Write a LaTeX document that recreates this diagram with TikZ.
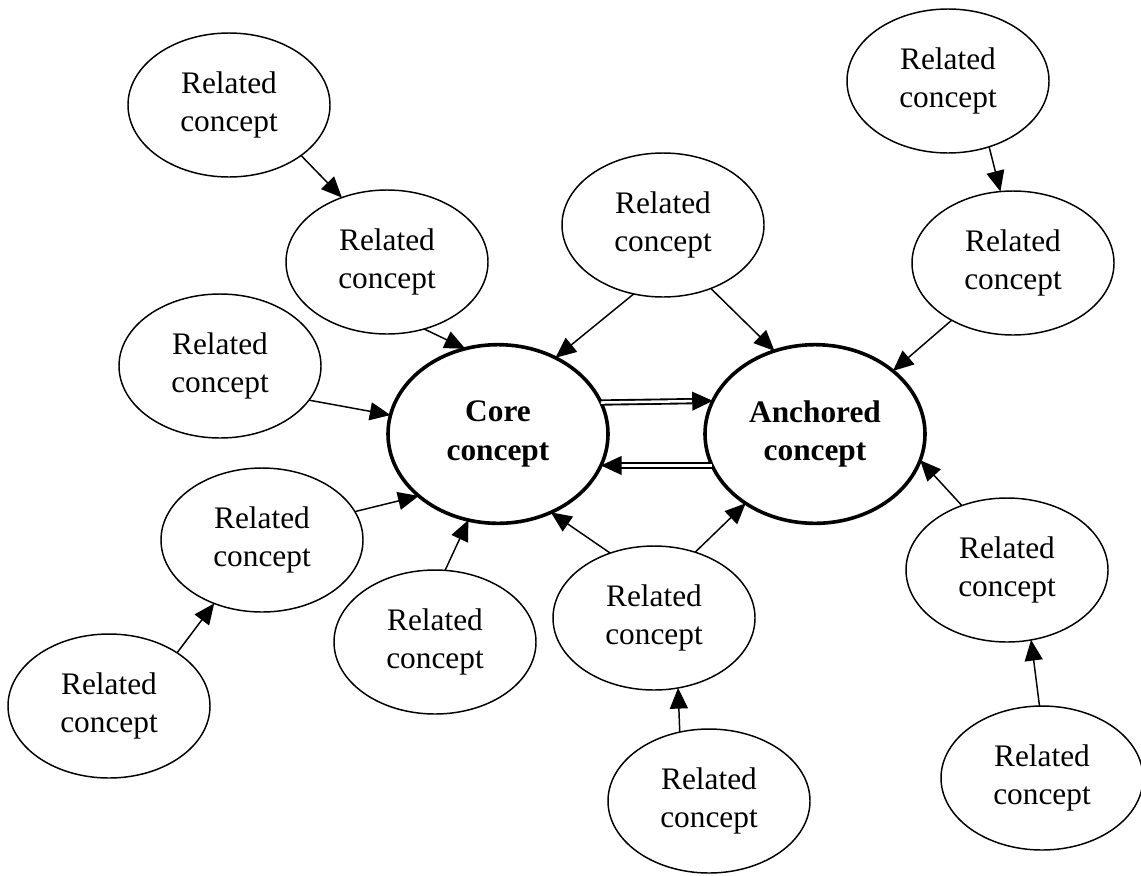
\documentclass[tikz,border=0pt]{standalone}
\usepackage{fontspec}
\setmainfont{Liberation Serif}
\usetikzlibrary{arrows.meta,shapes.geometric}
\tikzset{
  rel/.style={ellipse, draw, line width=1.1pt, inner sep=0pt, outer sep=0pt,
    minimum width=151.5pt, minimum height=108pt, align=center,
    font=\fontsize{23.5}{28.5}\selectfont},
  core/.style={ellipse, draw, line width=2.7pt, inner sep=0pt, outer sep=0pt,
    minimum width=165pt, minimum height=134pt, align=center,
    font=\fontsize{23.5}{29}\selectfont\bfseries},
  link/.style={line width=1.1pt, -{Triangle[length=15.5pt,width=13.5pt]}},
  dlink/.style={double, line width=1.4pt, double distance=1.9pt,
    -{Triangle[length=15.5pt,width=14pt]}}
}
\begin{document}
\begin{tikzpicture}[x=0.75pt,y=-0.75pt]
\useasboundingbox (0,0) rectangle (1141,875);
\node[core] (core) at (498,434) {Core\\concept};
\node[core] (anch) at (815,434) {Anchored\\concept};
\node[rel] (A) at (229,105) {Related\\concept};
\node[rel] (B) at (387,262) {Related\\concept};
\node[rel] (C) at (220,366) {Related\\concept};
\node[rel] (D) at (663,225) {Related\\concept};
\node[rel] (E) at (948,81) {Related\\concept};
\node[rel] (F) at (1013,263) {Related\\concept};
\node[rel] (G) at (262,540) {Related\\concept};
\node[rel] (H) at (109,706) {Related\\concept};
\node[rel] (I) at (435,642) {Related\\concept};
\node[rel] (J) at (654,618) {Related\\concept};
\node[rel] (K) at (709,801) {Related\\concept};
\node[rel] (L) at (1007,570) {Related\\concept};
\node[rel] (M) at (1042,778) {Related\\concept};
\draw[link] (A.-35) -- (B.125);
\draw[link] (B.-61) -- (core.111);
\draw[link] (C.-21) -- (core.170);
\draw[link] (D.-113) -- (core.53);
\draw[link] (D.-53) -- (anch.116);
\draw[link] (E.-58) -- (F.100);
\draw[link] (F.223) -- (anch.39);
\draw[link] (G.17) -- (core.218);
\draw[link] (H.38) -- (G.233);
\draw[link] (I.82) -- (core.251);
\draw[link] (J.124) -- (core.-56);
\draw[link] (J.58) -- (anch.225);
\draw[link] (K.113) -- (J.-71);
\draw[link] (L.125) -- (anch.-14);
\draw[link] (M.92) -- (L.-71);
\draw[dlink] (core.17.3) -- (anch.162.7);
\draw[dlink] (anch.197.3) -- (core.-17.3);
\end{tikzpicture}
\end{document}
